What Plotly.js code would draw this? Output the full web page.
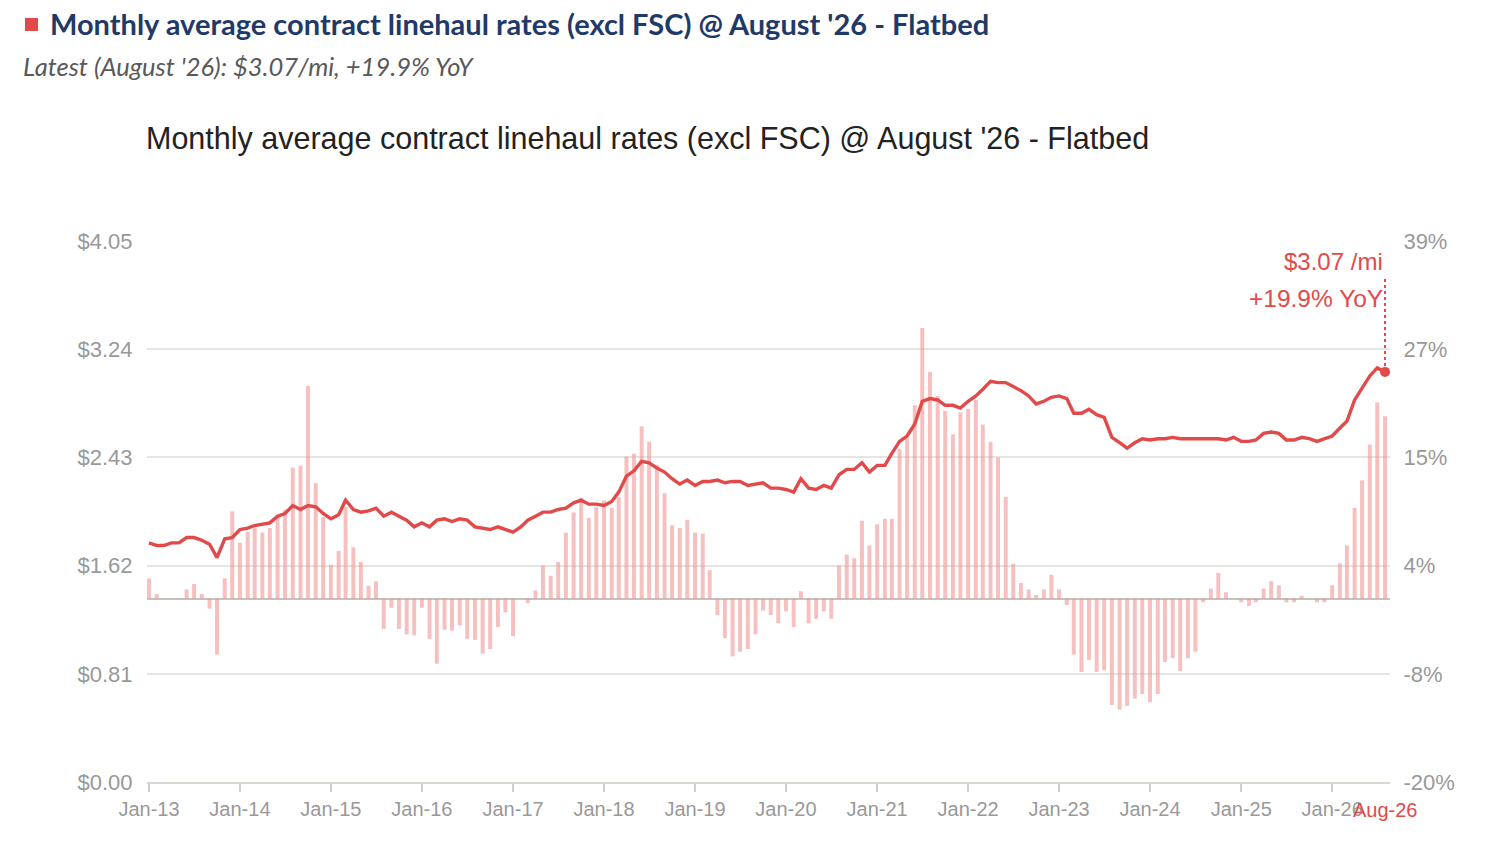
<!DOCTYPE html>
<html>
<head>
<meta charset="utf-8">
<script src="https://cdn.plot.ly/plotly-3.0.1.min.js"></script>
<style>
  html, body { margin: 0; padding: 0; background: #fff; width: 1488px; height: 850px; overflow: hidden; }
  #hdr { position: absolute; left: 25px; top: 6px; font-family: Lato, "Open Sans", sans-serif; font-weight: 700; font-size: 29px; color: #1f3a68; white-space: nowrap; }
  #hdr .sq { display: inline-block; width: 13px; height: 13px; background: #e24a4a; margin-right: 12px; vertical-align: 4px; }
  #sub { position: absolute; left: 23px; top: 51px; font-family: Lato, "Open Sans", sans-serif; font-style: italic; font-size: 25.5px; color: #595959; white-space: nowrap; }
  #chart { position: absolute; left: 0; top: 0; width: 1488px; height: 850px; }
</style>
</head>
<body>
<div id="chart"></div>
<div id="hdr"><span class="sq"></span>Monthly average contract linehaul rates (excl FSC) @ August '26 - Flatbed</div>
<div id="sub">Latest (August '26): $3.07/mi, +19.9% YoY</div>
<script>
// Monthly average contract linehaul rate, $/mi (excl FSC), Jan-13 .. Aug-26
const rates = [
  1.79,1.77,1.77,1.79,1.79,1.83,1.83,1.81,1.78,1.68,1.82,1.83,
  1.89,1.90,1.92,1.93,1.94,1.99,2.01,2.07,2.04,2.07,2.06,2.01,
  1.97,2.00,2.11,2.04,2.02,2.03,2.05,1.99,2.02,1.99,1.96,1.91,
  1.94,1.91,1.96,1.97,1.95,1.97,1.96,1.91,1.90,1.89,1.91,1.89,
  1.87,1.91,1.96,1.99,2.02,2.02,2.04,2.05,2.09,2.11,2.08,2.08,
  2.07,2.10,2.17,2.29,2.33,2.40,2.39,2.35,2.32,2.27,2.23,2.26,
  2.22,2.25,2.25,2.26,2.24,2.25,2.25,2.22,2.23,2.24,2.20,2.20,
  2.19,2.17,2.27,2.20,2.19,2.22,2.20,2.30,2.34,2.34,2.39,2.32,
  2.37,2.37,2.46,2.55,2.59,2.68,2.85,2.87,2.86,2.82,2.82,2.80,
  2.85,2.89,2.94,3.00,2.99,2.99,2.96,2.93,2.89,2.83,2.85,2.88,
  2.89,2.87,2.76,2.76,2.79,2.75,2.73,2.58,2.54,2.50,2.54,2.57,
  2.56,2.57,2.57,2.58,2.57,2.57,2.57,2.57,2.57,2.57,2.56,2.58,
  2.55,2.55,2.56,2.61,2.62,2.61,2.56,2.56,2.58,2.57,2.55,2.57,
  2.59,2.65,2.70,2.86,2.95,3.04,3.10,3.07
];
// Year-over-year change, %
const yoy = [
  2.2,0.5,0,0,0,1.0,1.6,0.5,-1.1,-6.1,2.2,9.5,
  6.1,7.3,7.7,7.2,7.7,9.1,9.7,14.3,14.5,23.2,12.6,8.9,
  3.7,5.2,10.0,5.6,4.0,1.4,1.9,-3.3,-1.0,-3.3,-3.9,-4.0,
  -1.0,-4.4,-7.1,-3.4,-3.5,-2.9,-4.4,-4.5,-6.0,-5.5,-3.1,-1.5,
  -4.1,0,-0.5,0.9,3.6,2.5,4.0,7.2,9.4,11.0,8.8,10.0,
  10.7,9.9,11.1,15.5,15.8,18.8,17.1,14.6,11.5,8.0,7.7,8.6,
  7.2,7.1,3.1,-1.8,-4.3,-6.3,-5.8,-5.5,-3.9,-1.3,-1.8,-2.7,
  -1.4,-3.1,0.8,-2.7,-2.2,-1.4,-2.2,3.6,4.8,4.4,8.5,5.8,
  8.1,8.7,8.7,16.3,17.5,21.1,29.5,24.7,22.1,20.5,17.9,20.3,
  20.7,21.7,19.0,17.1,15.4,11.1,3.8,1.7,1.0,0.4,1.0,2.6,
  1.0,-0.7,-6.1,-8.0,-6.7,-8.0,-7.8,-11.6,-12.1,-11.7,-10.9,-10.4,
  -11.3,-10.4,-6.9,-6.5,-7.9,-6.5,-5.8,-0.4,1.1,2.8,0.7,0,
  -0.4,-0.8,-0.4,1.1,1.9,1.45,-0.4,-0.4,0.3,0,-0.4,-0.4,
  1.45,3.85,5.8,9.9,12.9,16.8,21.4,19.9
];
const rateTicks = [0, 0.81, 1.62, 2.43, 3.24, 4.05];
const rateTickText = ["$0.00", "$0.81", "$1.62", "$2.43", "$3.24", "$4.05"];
const yoyTicks = [-20, -8.2, 3.6, 15.4, 27.2, 39];
const yoyTickText = ["-20%", "-8%", "4%", "15%", "27%", "39%"];
const lastLabel = "Aug-26";

// month categories
const months = [];
for (let i = 0; i < rates.length; i++) {
  const y = 2013 + Math.floor(i / 12), m = (i % 12) + 1;
  months.push(y + "-" + String(m).padStart(2, "0") + "-01");
}
const n = rates.length - 1;
const RED = "#e24a4a";
const GRAY = "#999999";

const traces = [
  { type: "bar", x: months, y: yoy, yaxis: "y", xaxis: "x",
    marker: { color: "rgba(240,140,140,0.55)", line: { width: 0 } },
    width: 16 * 86400000, hoverinfo: "skip", showlegend: false },
  { type: "scatter", mode: "lines", x: months, y: rates, yaxis: "y2", xaxis: "x",
    line: { color: RED, width: 3.4 }, showlegend: false },
  { type: "scatter", mode: "markers", x: [months[n]], y: [rates[n]], yaxis: "y2",
    marker: { color: RED, size: 10 }, showlegend: false }
];

const layout = {
  width: 1488, height: 850,
  margin: { l: 147, r: 98, t: 241, b: 68 },
  paper_bgcolor: "rgba(0,0,0,0)", plot_bgcolor: "rgba(0,0,0,0)",
  font: { family: "Liberation Sans, Arial, sans-serif", color: GRAY, size: 20 },
  title: { text: "Monthly average contract linehaul rates (excl FSC) @ August '26 - Flatbed",
    x: 146 / 1488, xanchor: "left", xref: "container",
    y: 1 - 138 / 850, yanchor: "middle", yref: "container",
    font: { family: "Liberation Sans, Arial, sans-serif", size: 30.5, color: "#222222" } },
  bargap: 0.4,
  xaxis: {
    type: "date", range: ["2012-12-24", "2026-08-21"],
    tickformat: "%b-%y", dtick: "M12", tick0: "2013-01-01",
    ticks: "outside", ticklen: 8, tickwidth: 2, tickcolor: "#d0d0c8",
    showline: true, linecolor: "#d8d8d0", linewidth: 2,
    showgrid: false, zeroline: false,
    tickfont: { size: 20, color: GRAY }, fixedrange: true
  },
  yaxis: {
    side: "right", range: [-20, 39],
    tickvals: yoyTicks, ticktext: yoyTickText,
    showgrid: false, zeroline: true, zerolinecolor: "#c4c4bc", zerolinewidth: 2,
    ticks: "outside", ticklen: 8, tickcolor: "rgba(0,0,0,0)",
    tickfont: { size: 22, color: GRAY }, fixedrange: true
  },
  yaxis2: {
    side: "left", overlaying: "y", range: [0, 4.05],
    tickvals: rateTicks, ticktext: rateTickText,
    showgrid: true, gridcolor: "#e6e6e0", gridwidth: 2, zeroline: false,
    ticks: "outside", ticklen: 9, tickcolor: "rgba(0,0,0,0)",
    tickfont: { size: 22, color: GRAY }, fixedrange: true
  },
  shapes: [
    { type: "line", xref: "x", yref: "y2", x0: months[n], x1: months[n],
      y0: rates[n], y1: 3.78, line: { color: RED, width: 2, dash: "dot" } }
  ],
  annotations: [
    { xref: "x", yref: "y2", x: months[n], y: 3.893, xanchor: "right", yanchor: "middle",
      xshift: 0, showarrow: false, text: "$" + rates[n].toFixed(2) + " /mi",
      font: { size: 24, color: RED } },
    { xref: "x", yref: "y2", x: months[n], y: 3.623, xanchor: "right", yanchor: "middle",
      xshift: 0, showarrow: false, text: "+" + yoy[n].toFixed(1) + "% YoY",
      font: { size: 24.5, color: RED } },
    { xref: "x", yref: "paper", x: months[n], y: 0, xanchor: "center", yanchor: "top",
      yshift: -15, showarrow: false, text: lastLabel,
      font: { size: 20, color: RED }, bgcolor: "rgba(0,0,0,0)" }
  ]
};

Plotly.newPlot("chart", traces, layout, { displayModeBar: false, staticPlot: true });
</script>
</body>
</html>
